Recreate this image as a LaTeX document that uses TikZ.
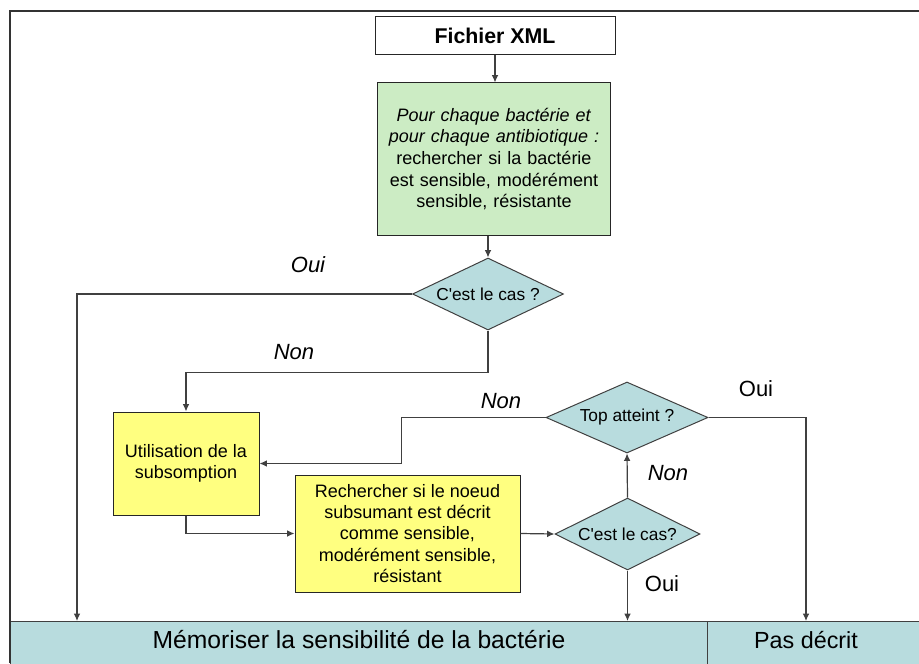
\documentclass[tikz,border=0pt]{standalone}
\usepackage{fontspec}
\setmainfont{Liberation Sans}
\usetikzlibrary{shapes.geometric,arrows.meta}
\definecolor{vertpale}{RGB}{204,236,196}
\definecolor{jaunepale}{RGB}{255,255,128}
\definecolor{bleupale}{RGB}{184,220,222}
\definecolor{trait}{RGB}{64,64,64}
\tikzset{
  boite/.style={draw=black!85,line width=0.75pt,inner sep=2pt,align=center,font=\fontsize{13.5}{16}\selectfont},
  losange/.style={diamond,aspect=2.1,draw=trait,line width=0.75pt,fill=bleupale,inner sep=0pt,font=\fontsize{13}{15}\selectfont},
  bas/.style={fill=bleupale,draw=trait,line width=0.75pt,inner xsep=0pt,inner ysep=0pt,anchor=north,text height=20.6pt,text depth=40pt,font=\fontsize{17.5}{20}\selectfont},
  fleche/.style={draw=trait,line width=0.9pt,-{Latex[length=5.5pt,width=5pt]}},
  etiq/.style={inner sep=0.75pt,font=\fontsize{16.5}{19}\selectfont}
}
\begin{document}
\begin{tikzpicture}[x=0.75pt,y=0.75pt,yscale=-1,xscale=1]
\useasboundingbox (0,0) rectangle (919,663);
\clip (0,0) rectangle (919,663);

% bottom row
\node[bas,minimum width=187.5pt] (pas) at (806,621) {Pas décrit};
\node[bas,minimum width=522.75pt,anchor=north west,font=\fontsize{18.5}{21}\selectfont] (memo) at (10,621) {Mémoriser la sensibilité de la bactérie};

% boxes
\node[boite,fill=white,minimum width=180pt,minimum height=28.5pt,font=\bfseries\fontsize{16}{19}\selectfont] (xml) at (495,36) {Fichier XML};
\node[boite,fill=vertpale,minimum width=174.75pt,minimum height=114pt,text width=168pt,font=\fontsize{13.5}{16.2}\selectfont] (pour) at (494,159)
  {\textit{Pour chaque bactérie et}\\ \textit{pour chaque antibiotique :}\\ rechercher si la bactérie\\ est sensible, modérément\\ sensible, résistante};
\node[losange,minimum width=113.25pt,minimum height=54pt] (cas1) at (488,294) {C\textquotesingle est le cas ?};
\node[boite,fill=jaunepale,minimum width=109.5pt,minimum height=77.25pt] (subs) at (186,463.5) {Utilisation de la\\ subsomption};
\node[boite,fill=jaunepale,minimum width=168.75pt,minimum height=87.75pt] (rech) at (407.5,533.5)
  {Rechercher si le noeud\\ subsumant est décrit\\ comme sensible,\\ modérément sensible,\\ résistant};
\node[losange,minimum width=121.5pt,minimum height=53.25pt] (top) at (627,417.5) {Top atteint ?};
\node[losange,minimum width=108.75pt,minimum height=54pt] (cas2) at (627.5,534) {C\textquotesingle est le cas?};

% connectors
\draw[fleche] (xml.south) -- (xml.south |- pour.north);
\draw[fleche] (pour.south -| cas1.north) -- (cas1.north);
\draw[fleche] (cas1.west) -| ([xshift=50.25pt]memo.north west);
\draw[fleche] (cas1.south) -- ++(0,42) -| (subs.north);
\draw[fleche] (top.west) -- ++(-144,0) |- (subs.east);
\draw[fleche] (subs.south) |- (rech.west);
\draw[fleche] (rech.east) -- (cas2.west);
\draw[fleche] (cas2.north) -- (top.south);
\draw[fleche] (cas2.south) -- (cas2.south |- memo.north);
\draw[fleche] (top.east) -| (pas.north);

% Text Node
\node[etiq,font=\itshape\fontsize{16.5}{19}\selectfont] (oui1) at (308,265) {Oui};
% Text Node
\node[etiq,font=\itshape\fontsize{16.5}{19}\selectfont] (non1) at (294,352) {Non};
% Text Node
\node[etiq,font=\itshape\fontsize{16.5}{19}\selectfont] (non2) at (501,401) {Non};
% Text Node
\node[etiq,font=\itshape\fontsize{16.5}{19}\selectfont] (non3) at (668,473) {Non};
% Text Node
\node[etiq] (oui2) at (756,389) {Oui};
% Text Node
\node[etiq] (oui3) at (662,584) {Oui};

% frame
\draw[line width=1.5pt,black!80] (10,663) -- (10,11) -- (919,11);
\end{tikzpicture}
\end{document}
